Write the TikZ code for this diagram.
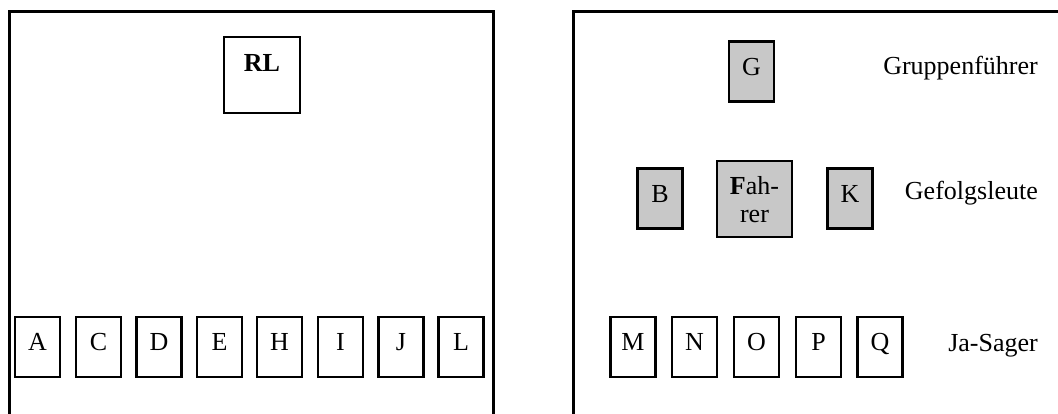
\documentclass[tikz,border=0pt]{standalone}
\usepackage{fontspec}
\setmainfont{Liberation Serif}
\definecolor{boxgray}{RGB}{200,200,200}
\begin{document}
\begin{tikzpicture}[x=1pt,y=-1pt,
  frame/.style={line width=3pt},
  lbox/.style={draw,line width=2.6pt,minimum width=45pt,minimum height=60pt,inner sep=0pt,text depth=10pt,font=\fontsize{26}{30}\selectfont},
  gbox/.style={lbox,fill=boxgray},
  side/.style={anchor=base east,inner sep=0pt,font=\fontsize{26}{30}\selectfont}]
\useasboundingbox (0,0) rectangle (1058,414);
% frames
\coordinate (l1) at (9,420); \coordinate (l2) at (9,12); \coordinate (l3) at (493,12); \coordinate (l4) at (493,420);
\draw[frame] (l1) -- (l2) -- (l3) -- (l4);
\coordinate (r1) at (573,420); \coordinate (r2) at (573,12); \coordinate (r3) at (1065,12);
\draw[frame] (r1) -- (r2) -- (r3);
% left panel
\node[lbox,minimum width=76pt,minimum height=76pt,text depth=24pt,font=\bfseries\fontsize{26}{30}\selectfont] (RL) at (262,75) {RL};
\foreach \n/\x in {A/37.5,C/98.5,D/159,E/219.5,H/279.5,I/340.5,J/401,L/461}
  \node[lbox] (\n) at (\x,347) {\n};
% right panel
\node[gbox] (G) at (751.5,71.5) {G};
\node[gbox] (B) at (660,198.5) {B};
\node[gbox,minimum width=75pt,minimum height=76pt,text depth=0pt,align=center,font=\fontsize{26}{28}\selectfont] (F) at (754.5,199) {\textbf{F}ah-\\rer};
\node[gbox] (K) at (850,198.5) {K};
\foreach \n/\x in {M/633,N/694.5,O/756.5,P/818.5,Q/880}
  \node[lbox] (\n) at (\x,347) {\n};
\node[side] (gf) at (1038,75) {Gruppenführer};
\node[side] (gl) at (1038,200) {Gefolgsleute};
\node[side] (js) at (1038,351) {Ja-Sager};
\end{tikzpicture}
\end{document}
